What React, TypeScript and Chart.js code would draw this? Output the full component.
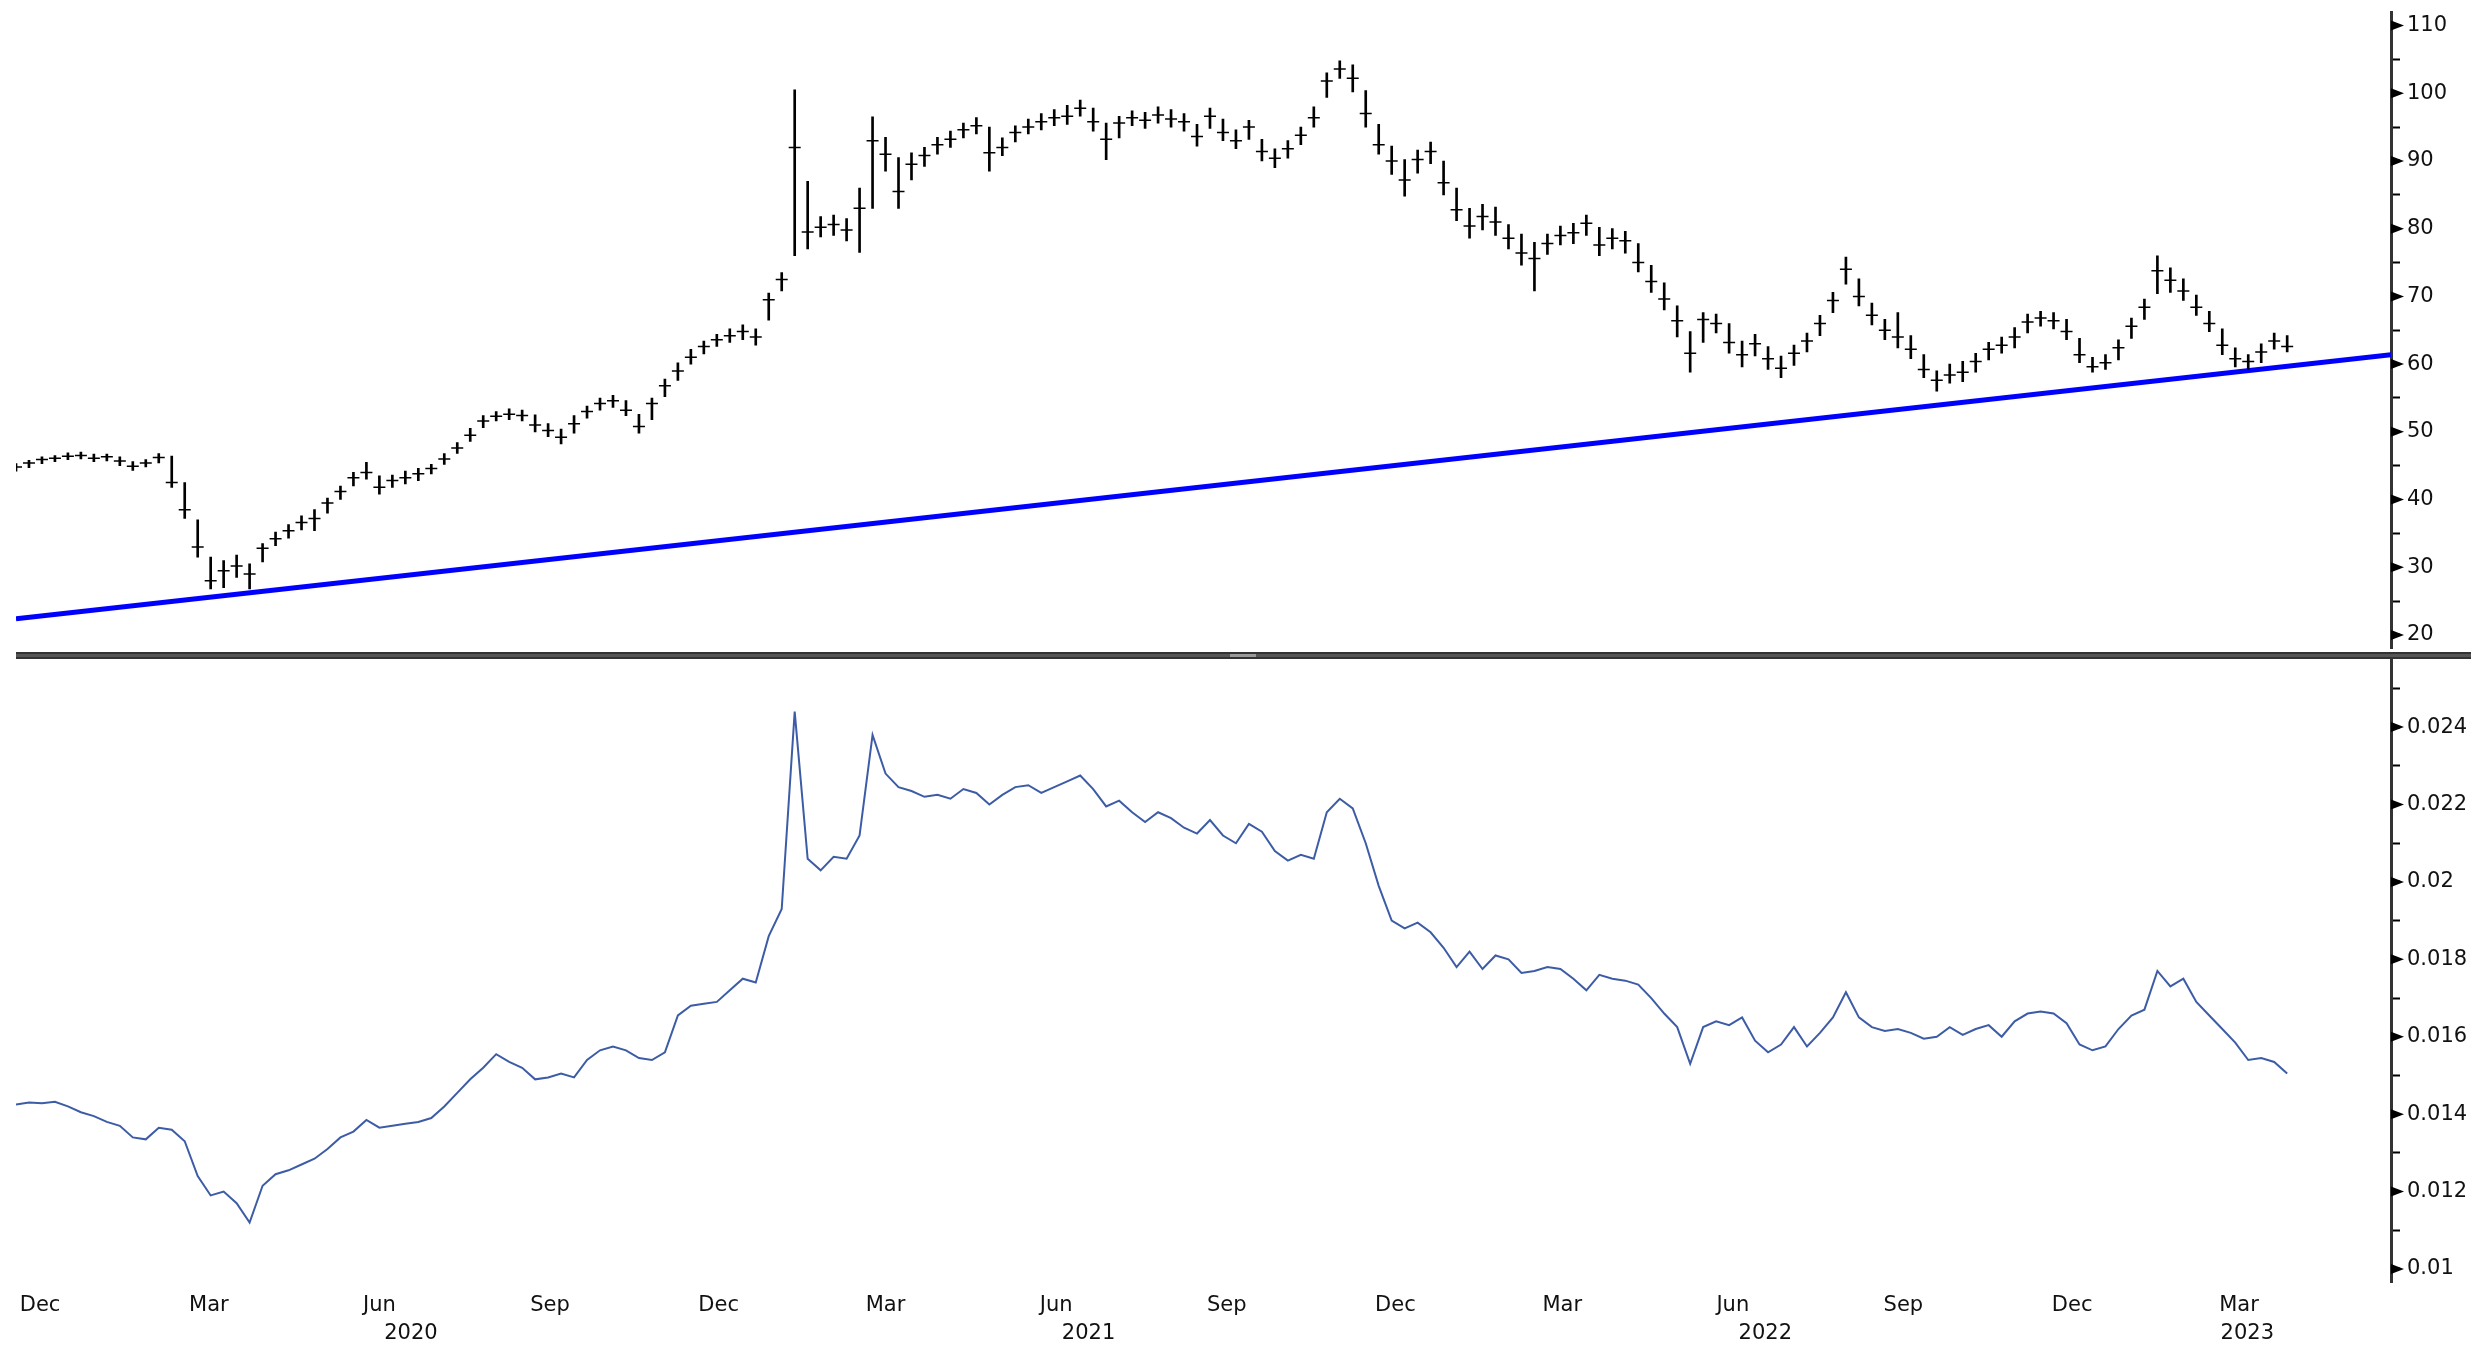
import React, { useEffect, useRef } from 'react';
import { Chart, registerables } from 'chart.js';

Chart.register(...registerables);

// ---------- data ----------
const ORIGIN = '2019-12-01';
const FIRST_WEEK = '2019-12-02';
const X_START = '2019-12-02';
const X_END = '2023-06-05';

const monthTickDates = [
  '2019-12-15', '2020-03-15', '2020-06-15', '2020-09-15', '2020-12-15',
  '2021-03-15', '2021-06-15', '2021-09-15', '2021-12-15',
  '2022-03-15', '2022-06-15', '2022-09-15', '2022-12-15', '2023-03-15',
];
const monthTickLabels = ['Dec', 'Mar', 'Jun', 'Sep', 'Dec', 'Mar', 'Jun', 'Sep', 'Dec', 'Mar', 'Jun', 'Sep', 'Dec', 'Mar'];
const yearLabels = ['2020', '2021', '2022', '2023'];
const yearStarts = ['2020-01-01', '2021-01-01', '2022-01-01', '2023-01-01'];
const yearEnds = ['2021-01-01', '2022-01-01', '2023-01-01', '2024-01-01'];

const topMajorTicks = [20, 30, 40, 50, 60, 70, 80, 90, 100, 110];
const topMinorTicks = [25, 35, 45, 55, 65, 75, 85, 95, 105];
const bottomMajorTicks = [0.01, 0.012, 0.014, 0.016, 0.018, 0.02, 0.022, 0.024];
const bottomMinorTicks = [0.011, 0.013, 0.015, 0.017, 0.019, 0.021, 0.023, 0.025];

const trendDates = ['2019-12-02', '2023-06-05'];
const trendValues = [22.4, 61.4];

// weekly bars (week starting FIRST_WEEK, one per week)
const topClose = [
  44.8, 45.4, 45.9, 46.1, 46.4, 46.5, 46.1, 46.3, 45.7, 44.9, 45.4, 46.2,
  42.5, 38.5, 33.0, 28.0, 29.5, 30.2, 29.0, 32.8, 34.2, 35.4, 36.6, 37.2,
  39.5, 41.2, 43.2, 44.0, 41.8, 42.8, 43.2, 43.8, 44.6, 46.0, 47.6, 49.5,
  51.6, 52.3, 52.6, 52.4, 51.0, 50.2, 49.2, 51.2, 53.0, 54.2, 54.6, 53.2,
  50.8, 54.2, 56.8, 59.0, 61.0, 62.6, 63.6, 64.2, 64.8, 64.0, 69.5, 72.5,
  92.0, 79.5, 80.2, 80.6, 79.8, 83.0, 93.0, 91.0, 85.5, 89.5, 90.8, 92.4,
  93.2, 94.6, 95.2, 91.2, 92.0, 94.2, 95.0, 95.8, 96.4, 96.6, 97.8, 95.8,
  93.2, 95.6, 96.4, 96.0, 96.8, 96.2, 95.8, 93.6, 96.6, 94.2, 93.0, 95.0,
  91.4, 90.4, 91.8, 93.8, 96.4, 101.8, 103.6, 102.2, 97.0, 92.4, 90.0, 87.2,
  90.2, 91.4, 86.8, 82.8, 80.4, 81.8, 81.0, 78.6, 76.4, 75.6, 77.8, 79.0,
  79.4, 80.8, 77.6, 78.6, 78.2, 75.0, 72.2, 69.6, 66.4, 61.6, 66.6, 66.0,
  63.2, 61.4, 63.0, 60.8, 59.4, 61.6, 63.4, 66.0, 69.4, 74.0, 70.0, 67.2,
  65.0, 64.0, 62.2, 59.2, 57.6, 58.4, 58.8, 60.4, 62.2, 62.8, 64.0, 66.2,
  66.8, 66.4, 64.8, 61.4, 59.6, 60.2, 62.4, 65.6, 68.4, 73.8, 72.4, 70.8,
  68.4, 66.0, 62.8, 60.8, 60.4, 61.8, 63.4, 62.6,
];
const topHigh = [
  45.3, 45.8, 46.3, 46.5, 46.9, 47.0, 46.7, 46.7, 46.3, 45.6, 45.9, 46.8,
  46.4, 42.5, 37.0, 31.5, 31.0, 31.8, 30.5, 33.5, 35.2, 36.3, 37.6, 38.5,
  40.2, 42.0, 44.0, 45.5, 43.5, 43.6, 44.2, 44.6, 45.2, 46.8, 48.4, 50.5,
  52.4, 53.0, 53.4, 53.2, 52.5, 51.2, 50.4, 52.4, 53.8, 55.0, 55.4, 54.6,
  52.6, 55.0, 57.8, 60.2, 62.2, 63.4, 64.4, 65.2, 65.8, 65.2, 70.5, 73.5,
  100.5, 87.0, 81.8, 82.0, 81.5, 86.0, 96.5, 93.5, 90.5, 91.2, 92.0, 93.5,
  94.4, 95.6, 96.4, 95.0, 93.4, 95.2, 96.2, 97.0, 97.6, 98.2, 99.0, 97.8,
  95.6, 96.6, 97.4, 97.2, 98.0, 97.6, 97.0, 95.4, 97.8, 96.2, 94.6, 96.0,
  93.2, 91.8, 93.0, 95.0, 98.0, 103.0, 104.8, 104.2, 100.4, 95.4, 92.2, 90.2,
  91.6, 92.8, 90.0, 86.0, 83.0, 83.6, 83.2, 80.6, 79.2, 78.0, 79.2, 80.4,
  80.8, 82.0, 80.2, 80.0, 79.6, 77.8, 74.6, 72.0, 68.6, 64.8, 67.6, 67.4,
  66.0, 63.4, 64.4, 62.6, 61.2, 62.8, 64.6, 67.2, 70.6, 75.8, 72.6, 69.0,
  66.6, 67.6, 64.2, 61.4, 59.0, 60.0, 60.4, 61.6, 63.2, 64.0, 65.4, 67.4,
  67.8, 67.6, 66.6, 63.8, 61.0, 61.4, 63.6, 66.8, 69.6, 76.0, 74.2, 72.6,
  70.2, 67.8, 65.2, 62.4, 61.4, 63.0, 64.6, 64.2,
];
const topLow = [
  44.2, 44.7, 45.3, 45.6, 45.9, 46.0, 45.6, 45.7, 45.0, 44.3, 44.8, 45.4,
  41.8, 37.2, 31.5, 26.8, 27.0, 28.5, 26.8, 30.8, 33.2, 34.3, 35.5, 35.4,
  38.0, 40.0, 42.0, 43.0, 40.8, 41.8, 42.3, 42.8, 43.8, 45.2, 46.8, 48.6,
  50.6, 51.6, 51.8, 51.6, 50.0, 49.3, 48.2, 49.8, 52.0, 53.2, 53.6, 52.4,
  49.8, 51.8, 55.2, 57.6, 60.0, 61.5, 62.6, 63.2, 63.6, 62.8, 66.5, 70.8,
  76.0, 77.0, 78.8, 79.0, 78.2, 76.5, 83.0, 88.5, 83.0, 87.2, 89.2, 91.0,
  92.0, 93.4, 94.0, 88.5, 90.8, 92.8, 94.0, 94.6, 95.2, 95.4, 96.6, 94.4,
  90.2, 93.4, 95.2, 94.8, 95.6, 95.0, 94.4, 92.2, 94.8, 93.0, 91.8, 93.2,
  90.0, 89.0, 90.4, 92.4, 95.0, 99.4, 102.2, 100.2, 95.0, 91.0, 88.0, 84.8,
  88.2, 89.6, 85.0, 81.2, 78.6, 79.8, 79.0, 77.0, 74.6, 70.8, 76.2, 77.6,
  77.8, 79.0, 76.0, 77.0, 76.4, 73.6, 70.6, 68.0, 64.0, 58.8, 63.2, 64.6,
  61.6, 59.6, 61.2, 59.2, 58.0, 59.8, 61.8, 64.2, 67.6, 71.8, 68.6, 65.8,
  63.6, 62.4, 60.8, 58.0, 56.0, 57.2, 57.4, 58.8, 60.6, 61.6, 62.4, 64.6,
  65.6, 65.2, 63.6, 60.2, 58.8, 59.2, 60.6, 63.8, 66.6, 70.4, 70.6, 69.4,
  67.2, 64.8, 61.4, 59.6, 59.2, 60.2, 62.2, 61.8,
];
const bottomValues = [
  0.01425, 0.01430, 0.01428, 0.01432, 0.01420, 0.01405, 0.01395, 0.01380, 0.01370, 0.01340, 0.01335, 0.01365,
  0.01360, 0.01330, 0.01240, 0.01190, 0.01200, 0.01170, 0.01120, 0.01215, 0.01245, 0.01255, 0.01270, 0.01285,
  0.01310, 0.01340, 0.01355, 0.01385, 0.01365, 0.01370, 0.01375, 0.01380, 0.01390, 0.01420, 0.01455, 0.01490,
  0.01520, 0.01555, 0.01535, 0.01520, 0.01490, 0.01495, 0.01505, 0.01495, 0.01540, 0.01565, 0.01575, 0.01565,
  0.01545, 0.01540, 0.01560, 0.01655, 0.01680, 0.01685, 0.01690, 0.01720, 0.01750, 0.01740, 0.01860, 0.01930,
  0.02440, 0.02060, 0.02030, 0.02065, 0.02060, 0.02120, 0.02380, 0.02280, 0.02245, 0.02235, 0.02220, 0.02225,
  0.02215, 0.02240, 0.02230, 0.02200, 0.02225, 0.02245, 0.02250, 0.02230, 0.02245, 0.02260, 0.02275, 0.02240,
  0.02195, 0.02210, 0.02180, 0.02155, 0.02180, 0.02165, 0.02140, 0.02125, 0.02160, 0.02120, 0.02100, 0.02150,
  0.02130, 0.02080, 0.02055, 0.02070, 0.02060, 0.02180, 0.02215, 0.02190, 0.02100, 0.01990, 0.01900, 0.01880,
  0.01895, 0.01870, 0.01830, 0.01780, 0.01820, 0.01775, 0.01810, 0.01800, 0.01765, 0.01770, 0.01780, 0.01775,
  0.01750, 0.01720, 0.01760, 0.01750, 0.01745, 0.01735, 0.01700, 0.01660, 0.01625, 0.01530, 0.01625, 0.01640,
  0.01630, 0.01650, 0.01590, 0.01560, 0.01580, 0.01625, 0.01575, 0.01610, 0.01650, 0.01715, 0.01650, 0.01625,
  0.01615, 0.01620, 0.01610, 0.01595, 0.01600, 0.01625, 0.01605, 0.01620, 0.01630, 0.01600, 0.01640, 0.01660,
  0.01665, 0.01660, 0.01635, 0.01580, 0.01565, 0.01575, 0.01620, 0.01655, 0.01670, 0.01770, 0.01730, 0.01750,
  0.01690, 0.01655, 0.01620, 0.01585, 0.01540, 0.01545, 0.01535, 0.01505,
];

// ---------- helpers ----------
const FONT = '"DejaVu Sans", Verdana, sans-serif';
const TEXT = '#111';
const W = 2490;
const TOP_H = 656;
const BOT_TOP = 659;
const BOT_H = 1345 - BOT_TOP;
const AXIS_W = 99;

function dayIndex(s: string): number {
  const [y, m, d] = s.split('-').map(Number);
  const [oy, om, od] = ORIGIN.split('-').map(Number);
  return (Date.UTC(y, m - 1, d) - Date.UTC(oy, om - 1, od)) / 86400000;
}
const weekDays = topClose.map((_, i) => dayIndex(FIRST_WEEK) + 7 * i);
const near = (a: number, b: number) => Math.abs(a - b) < 1e-9;

function arrowPlugin(majors: number[]) {
  return {
    id: 'arrows',
    afterDraw(chart: any) {
      const s = chart.scales.y;
      const ctx = chart.ctx;
      ctx.save();
      ctx.fillStyle = '#000';
      majors.forEach((v) => {
        if (v < s.min || v > s.max) return;
        const y = s.getPixelForValue(v);
        const x = s.left;
        ctx.beginPath();
        ctx.moveTo(x, y - 5);
        ctx.lineTo(x + 13, y);
        ctx.lineTo(x, y + 5);
        ctx.closePath();
        ctx.fill();
      });
      ctx.restore();
    },
  };
}

const yearPlugin = {
  id: 'years',
  afterDraw(chart: any) {
    const xs = chart.scales.x;
    const ctx = chart.ctx;
    ctx.save();
    ctx.font = `21px ${FONT}`;
    ctx.fillStyle = TEXT;
    ctx.textAlign = 'center';
    ctx.textBaseline = 'middle';
    yearLabels.forEach((lab, i) => {
      const a = Math.max(dayIndex(yearStarts[i]), xs.min);
      const b = Math.min(dayIndex(yearEnds[i]), xs.max);
      if (b <= a) return;
      ctx.fillText(lab, xs.getPixelForValue((a + b) / 2), xs.top + 52);
    });
    ctx.restore();
  },
};

function yAxis(min: number, max: number, majors: number[], minors: number[], fmt: (v: number) => string) {
  return {
    type: 'linear',
    position: 'right',
    min,
    max,
    afterBuildTicks: (s: any) => {
      s.ticks = [...majors, ...minors].sort((a, b) => a - b).map((v) => ({ value: v }));
    },
    afterFit: (s: any) => {
      s.width = AXIS_W;
      s.paddingTop = 0;
      s.paddingBottom = 0;
    },
    border: { display: true, color: '#333', width: 3 },
    grid: { display: true, drawOnChartArea: false, drawTicks: true, tickLength: 9, tickColor: '#000', tickWidth: 2 },
    ticks: {
      padding: 7,
      color: TEXT,
      font: { family: FONT, size: 21 },
      autoSkip: false,
      callback: (v: number) => (majors.some((m) => near(m, v)) ? fmt(v) : ''),
    },
  };
}

export default function App() {
  const topRef = useRef<HTMLCanvasElement | null>(null);
  const botRef = useRef<HTMLCanvasElement | null>(null);

  useEffect(() => {
    const xMin = dayIndex(X_START);
    const xMax = dayIndex(X_END);

    const top = new Chart(topRef.current as HTMLCanvasElement, {
      type: 'bar',
      data: {
        datasets: [
          {
            type: 'line',
            data: trendDates.map((d, i) => ({ x: dayIndex(d), y: trendValues[i] })),
            borderColor: '#0000ff',
            borderWidth: 5,
            pointRadius: 0,
            order: 3,
          } as any,
          {
            type: 'bar',
            data: weekDays.map((d, i) => ({ x: d, y: [topLow[i], topHigh[i]] })),
            backgroundColor: '#000',
            barThickness: 2,
            order: 2,
          } as any,
          {
            type: 'line',
            data: weekDays.map((d, i) => ({ x: d, y: topClose[i] })),
            showLine: false,
            pointStyle: 'line',
            pointRadius: 6,
            pointBorderWidth: 1.5,
            pointBorderColor: '#000',
            borderColor: '#000',
            order: 1,
          } as any,
        ],
      },
      options: {
        responsive: false,
        animation: false,
        events: [],
        layout: { padding: { left: 16, right: 0, top: 12, bottom: 4 } },
        plugins: { legend: { display: false }, tooltip: { enabled: false } },
        scales: {
          x: { type: 'linear', min: xMin, max: xMax, offset: false, display: false },
          y: yAxis(18, 112, topMajorTicks, topMinorTicks, (v) => String(Math.round(v))),
        } as any,
      },
      plugins: [arrowPlugin(topMajorTicks)],
    });

    const bot = new Chart(botRef.current as HTMLCanvasElement, {
      type: 'line',
      data: {
        datasets: [
          {
            data: weekDays.map((d, i) => ({ x: d, y: bottomValues[i] })),
            borderColor: '#3d5ca6',
            borderWidth: 2,
            pointRadius: 0,
            tension: 0,
          },
        ],
      },
      options: {
        responsive: false,
        animation: false,
        events: [],
        layout: { padding: { left: 16, right: 0, top: 0, bottom: 0 } },
        plugins: { legend: { display: false }, tooltip: { enabled: false } },
        scales: {
          x: {
            type: 'linear',
            min: xMin,
            max: xMax,
            offset: false,
            afterBuildTicks: (s: any) => {
              s.ticks = monthTickDates.map((d) => ({ value: dayIndex(d) }));
            },
            afterFit: (s: any) => {
              s.height = 63;
              s.paddingLeft = 0;
              s.paddingRight = 0;
            },
            border: { display: false },
            grid: { display: false, drawTicks: false },
            ticks: {
              autoSkip: false,
              maxRotation: 0,
              padding: 11,
              color: TEXT,
              font: { family: FONT, size: 21 },
              callback: (_v: number, i: number) => monthTickLabels[i],
            },
          },
          y: yAxis(0.009664, 0.02576, bottomMajorTicks, bottomMinorTicks, (v) => String(+v.toFixed(3))),
        } as any,
      },
      plugins: [arrowPlugin(bottomMajorTicks), yearPlugin],
    });

    return () => {
      top.destroy();
      bot.destroy();
    };
  }, []);

  return (
    <div style={{ position: 'fixed', left: 0, top: 0, width: W, height: 1345, background: '#fff', overflow: 'hidden' }}>
      <canvas ref={topRef} width={W} height={TOP_H} style={{ position: 'absolute', left: 0, top: 0, width: W, height: TOP_H }} />
      <canvas ref={botRef} width={W} height={BOT_H} style={{ position: 'absolute', left: 0, top: BOT_TOP, width: W, height: BOT_H }} />
      <div style={{ position: 'absolute', left: 16, top: 652, width: 2455, height: 7, background: '#555', borderTop: '2px solid #333', borderBottom: '2px solid #333', boxSizing: 'border-box' }} />
      <div style={{ position: 'absolute', left: 1230, top: 654, width: 26, height: 3, background: '#9a9a9a' }} />
    </div>
  );
}
